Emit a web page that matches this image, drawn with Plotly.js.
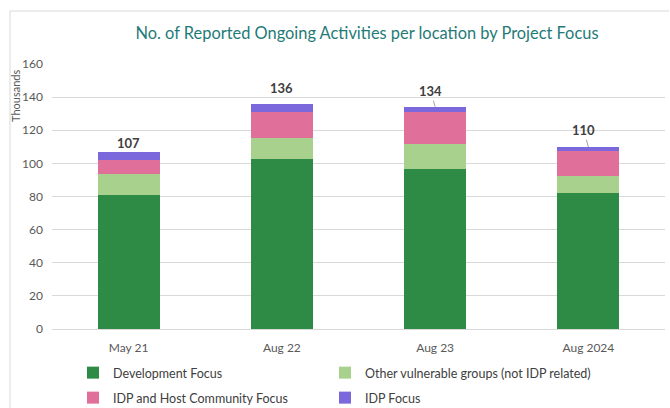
<!DOCTYPE html>
<html>
<head>
<meta charset="utf-8">
<script src="https://cdn.plot.ly/plotly-3.0.1.min.js"></script>
<style>html,body{margin:0;padding:0;background:#fff;}#chart{width:670px;height:408px;}</style>
</head>
<body>
<div id="chart"></div>
<script>
// ---- data (thousands) ----
const categories = ["May 21", "Aug 22", "Aug 23", "Aug 2024"];
const developmentFocus = [81.0, 102.5, 96.9, 82.0];
const otherVulnerable = [12.5, 13.1, 15.1, 10.1];
const idpHostCommunity = [8.4, 15.6, 19.2, 15.5];
const idpFocus = [4.7, 4.5, 3.0, 2.2];
const seriesNames = ["Development Focus", "Other vulnerable groups (not IDP related)", "IDP and Host Community Focus", "IDP Focus"];
const yTickValues = [0, 20, 40, 60, 80, 100, 120, 140, 160];

// ---- styles ----
const FONT = "Lato, 'Open Sans', sans-serif";
const colors = ["#2e8b46", "#a9d18e", "#e0709a", "#7b68dc"];
const legendIds = ["legend", "legend2", "legend3", "legend4"];
const seriesData = [developmentFocus, otherVulnerable, idpHostCommunity, idpFocus];

const traces = seriesData.map((vals, i) => ({
  type: "bar",
  name: seriesNames[i],
  x: categories,
  y: vals,
  legend: legendIds[i],
  marker: { color: colors[i], line: { width: 0 } },
  hoverinfo: "skip"
}));

const totals = categories.map((c, i) => seriesData.reduce((s, arr) => s + arr[i], 0));

// label placement style per bar
const labelStyle = [
  { ax: 0, ay: -9, arrow: false },
  { ax: 0, ay: -16, arrow: false },
  { ax: -4.5, ay: -15.5, arrow: true },
  { ax: -4.5, ay: -17, arrow: true }
];

const L = 52, R = 5, T = 64, B = 79, W = 670, H = 408;
const pw = W - L - R, ph = H - T - B;
const px = v => (v - L) / pw;
const py = v => (H - B - v) / ph;

const annotations = totals.map((t, i) => {
  const s = labelStyle[i];
  const base = {
    x: i, y: t, xref: "x", yref: "y",
    text: "<b>" + Math.round(t) + "</b>",
    font: { family: FONT, size: 13, color: "#404040" }
  };
  if (s.arrow) {
    return Object.assign(base, {
      showarrow: true, arrowhead: 0, arrowwidth: 1, arrowcolor: "#a6a6a6",
      ax: s.ax, ay: s.ay, standoff: 0, startstandoff: 0
    });
  }
  return Object.assign(base, { showarrow: false, yanchor: "middle", yshift: -s.ay });
});

annotations.push({
  xref: "paper", yref: "paper", x: px(15), y: py(96),
  xanchor: "center", yanchor: "middle",
  text: "Thousands", textangle: -90, showarrow: false,
  font: { family: FONT, size: 11, color: "#595959" }
});

const legendBase = {
  orientation: "h",
  xanchor: "left", yanchor: "middle",
  traceorder: "normal",
  font: { family: FONT, size: 12.5, color: "#404040" },
  itemwidth: 30, itemclick: false, itemdoubleclick: false,
  bgcolor: "rgba(0,0,0,0)"
};
const legendPos = [[73, 373], [325, 373], [73, 398], [325, 398]];

const layout = {
  width: W, height: H,
  margin: { l: L, r: R, t: T, b: B, pad: 0, autoexpand: false },
  paper_bgcolor: "#ffffff",
  plot_bgcolor: "#ffffff",
  font: { family: FONT, color: "#595959" },
  title: {
    text: "No. of Reported Ongoing Activities per location by Project Focus",
    font: { family: FONT, size: 16.4, color: "#1f7a78" },
    x: 367 / W, xanchor: "center", xref: "container",
    y: 1 - 33 / H, yanchor: "middle", yref: "container"
  },
  barmode: "stack",
  bargap: 0.595,
  xaxis: {
    type: "category",
    tickfont: { family: FONT, size: 12, color: "#595959" },
    showline: true, linecolor: "#d9d9d9", linewidth: 1,
    ticks: "", showgrid: false, fixedrange: true,
    ticklabelstandoff: 8
  },
  yaxis: {
    range: [0, 160],
    tickvals: yTickValues,
    tickfont: { family: FONT, size: 12, color: "#595959" },
    gridcolor: "#d9d9d9", gridwidth: 1,
    zeroline: false, showline: false, ticks: "",
    ticklabelstandoff: 8, fixedrange: true
  },
  showlegend: true,
  shapes: [{
    type: "path", xref: "paper", yref: "paper",
    path: `M ${px(10)},${py(408)} L ${px(10)},${py(11)} L ${px(669)},${py(11)}`,
    line: { color: "#d9d9d9", width: 1 }
  }],
  annotations: annotations
};
legendIds.forEach((id, i) => {
  layout[id] = Object.assign({}, legendBase, { x: px(legendPos[i][0]), y: py(legendPos[i][1]) });
});

Plotly.newPlot("chart", traces, layout, { displayModeBar: false, staticPlot: true });
</script>
</body>
</html>
